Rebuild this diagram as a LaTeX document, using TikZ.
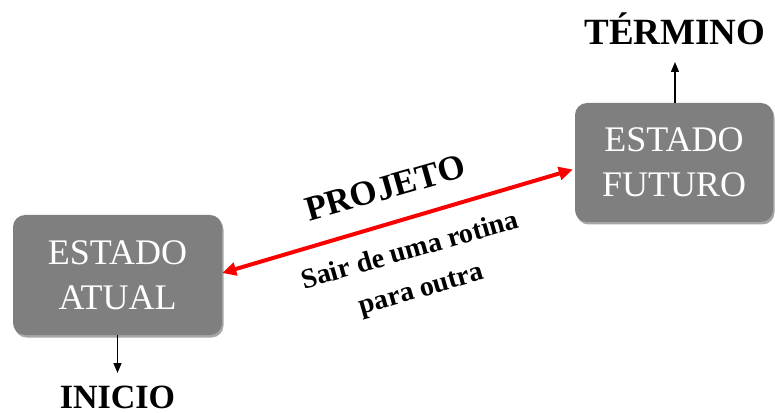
\documentclass[tikz,border=0pt]{standalone}
\usepackage{fontspec}
\setmainfont{Liberation Serif}
\usetikzlibrary{arrows.meta,shadows,calc}
\begin{document}
\begin{tikzpicture}[x=1pt,y=1pt,
  statebox/.style={rectangle,rounded corners=12pt,fill=boxgray,draw=none,
    text=white,font=\fontsize{36}{45}\selectfont,align=center,inner sep=0pt,
    drop shadow={shadow xshift=1.5pt,shadow yshift=-2.5pt,opacity=0.35,fill=black}},
  blackarrow/.style={draw=black,line width=1.3pt,-{Triangle[length=10pt,width=8pt]}},
  redarrow/.style={draw=arrowred,line width=4pt,{Triangle[length=14pt,width=13pt]}-{Triangle[length=14pt,width=13pt]}},
  endlabel/.style={font=\fontsize{34}{38}\selectfont\bfseries,inner sep=0pt,anchor=base}
]
\definecolor{boxgray}{RGB}{127,127,127}
\definecolor{arrowred}{RGB}{250,0,0}
\useasboundingbox (0,0) rectangle (775,412);
\node[statebox,minimum width=209pt,minimum height=120pt] (atual) at (117.5,137) {ESTADO\\ATUAL};
\node[statebox,minimum width=198pt,minimum height=119pt] (futuro) at (674,249.5) {ESTADO\\FUTURO};
\coordinate (redL) at ($(atual.east)+(0,2)$);
\coordinate (redR) at ($(futuro.west)+(-2,-7)$);
\draw[redarrow] (redL) -- (redR);
\node[rotate=16,font=\fontsize{35}{40}\selectfont\bfseries,inner sep=0pt] (projeto) at (385,224) {PROJETO};
\node[rotate=16,font=\fontsize{28}{40}\selectfont\bfseries,align=center,inner sep=0pt] (sair) at (416,141) {Sair de uma rotina\\para outra};
\node[endlabel] (inicio) at (117.5,4) {INICIO};
\node[endlabel,font=\fontsize{37}{40}\selectfont\bfseries] (termino) at (675,367) {TÉRMINO};
\coordinate (downEnd) at (117.5,39);
\coordinate (upEnd) at (675,350);
\draw[blackarrow] (atual.south) -- (downEnd);
\draw[blackarrow] (futuro.north -| upEnd) -- (upEnd);
\end{tikzpicture}
\end{document}
